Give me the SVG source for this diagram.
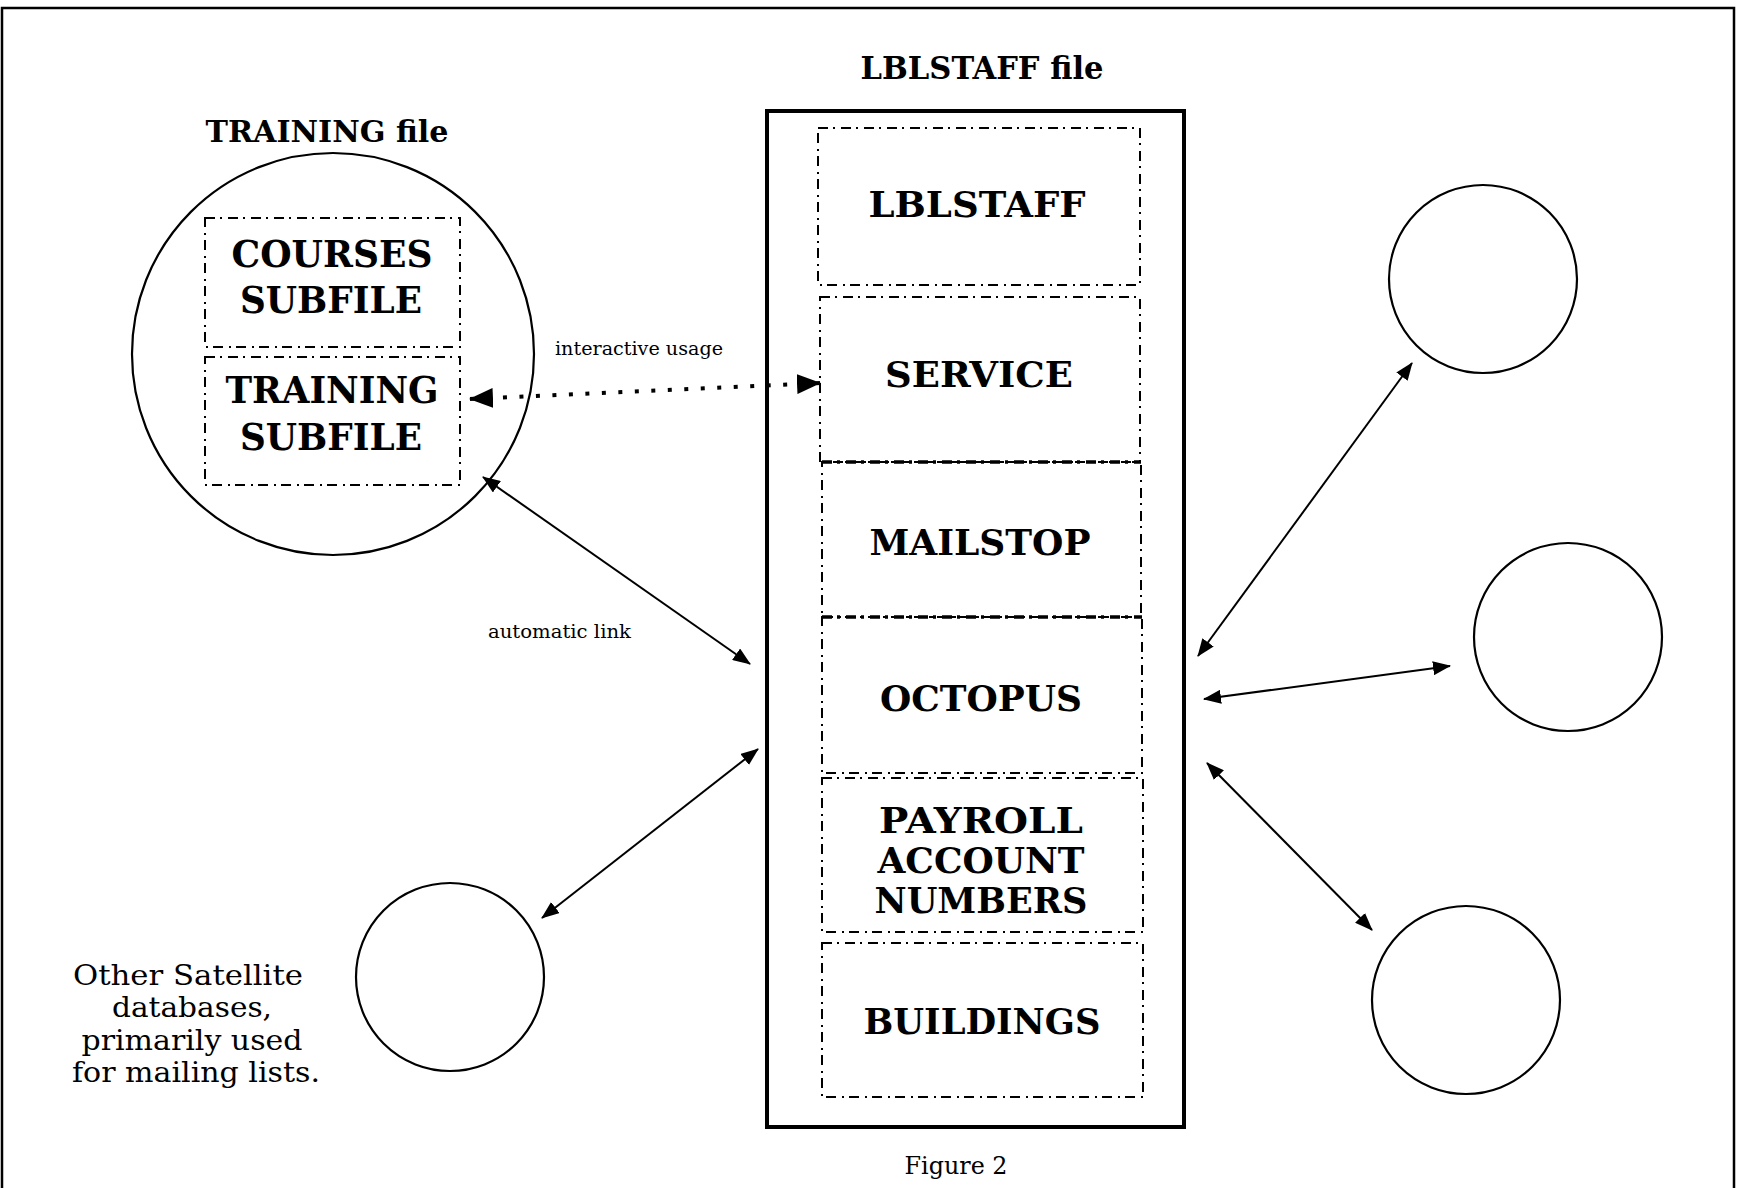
<svg xmlns="http://www.w3.org/2000/svg" width="1737" height="1188" viewBox="0 0 1737 1188">
  <style>
    .frame { fill: none; stroke: #000; stroke-width: 2.5; }
    .ring { fill: none; stroke: #000; stroke-width: 2.2; }
    .outer { fill: none; stroke: #000; stroke-width: 4; }
    .field { fill: none; stroke: #000; stroke-width: 2; stroke-dasharray: 10 5 2 6; }
    .seam { fill: none; stroke: #000; stroke-width: 3.6; stroke-dasharray: 10 5 3 6; }
    .hb { font-family: "DejaVu Serif", "Liberation Serif", serif; font-weight: bold; text-anchor: middle; fill: #000; }
    .lb { font-family: "DejaVu Serif", "Liberation Serif", serif; fill: #000; }
    .link { fill: none; stroke: #000; stroke-width: 2; marker-start: url(#tip); marker-end: url(#tip); }
    .dots { fill: none; stroke: #000; stroke-width: 4; stroke-dasharray: 4 12.5; marker-start: url(#tipBig); marker-end: url(#tipBig); }
  </style>
  <defs>
    <marker id="tip" viewBox="0 0 18 14" refX="17" refY="7" markerWidth="18" markerHeight="14" markerUnits="userSpaceOnUse" orient="auto-start-reverse">
      <path d="M0,0 L18,7 L0,14 z" fill="#000"/>
    </marker>
    <marker id="tipBig" viewBox="0 0 24 20" refX="23" refY="10" markerWidth="24" markerHeight="20" markerUnits="userSpaceOnUse" orient="auto-start-reverse">
      <path d="M0,0 L24,10 L0,20 z" fill="#000"/>
    </marker>
  </defs>

  <rect width="1737" height="1188" fill="#fff"/>
  <!-- page frame (open at the bottom) -->
  <path class="frame" d="M2,1188 V8 H1734 V1188"/>

  <!-- TRAINING file -->
  <g id="training-file">
    <text class="hb" x="327" y="142" font-size="30" textLength="243" lengthAdjust="spacingAndGlyphs">TRAINING file</text>
    <circle class="ring" cx="333" cy="354" r="201"/>
  </g>
  <g id="courses-subfile">
    <rect class="field" x="205" y="218" width="255" height="129"/>
    <text class="hb" x="332" y="267" font-size="37" textLength="201" lengthAdjust="spacingAndGlyphs">COURSES</text>
    <text class="hb" x="331" y="313" font-size="37" textLength="182" lengthAdjust="spacingAndGlyphs">SUBFILE</text>
  </g>
  <g id="training-subfile">
    <rect class="field" x="205" y="357" width="255" height="128"/>
    <text class="hb" x="332" y="403" font-size="37" textLength="213" lengthAdjust="spacingAndGlyphs">TRAINING</text>
    <text class="hb" x="331" y="450" font-size="37" textLength="182" lengthAdjust="spacingAndGlyphs">SUBFILE</text>
  </g>

  <!-- LBLSTAFF file -->
  <g id="lblstaff-file">
    <text class="hb" x="982" y="79" font-size="31" textLength="243" lengthAdjust="spacingAndGlyphs">LBLSTAFF file</text>
    <rect class="outer" x="767" y="111" width="417" height="1016"/>
  </g>
  <g id="lblstaff">
    <rect class="field" x="818" y="128" width="322" height="157"/>
    <text class="hb" x="977" y="217" font-size="35" textLength="217" lengthAdjust="spacingAndGlyphs">LBLSTAFF</text>
  </g>
  <g id="service">
    <rect class="field" x="820" y="297" width="320" height="165"/>
    <text class="hb" x="979" y="387" font-size="35" textLength="188" lengthAdjust="spacingAndGlyphs">SERVICE</text>
  </g>
  <g id="mailstop">
    <rect class="field" x="822" y="462" width="319" height="155"/>
    <line class="seam" x1="822" y1="462" x2="1141" y2="462"/>
    <text class="hb" x="980" y="555" font-size="35" textLength="221" lengthAdjust="spacingAndGlyphs">MAILSTOP</text>
  </g>
  <g id="octopus">
    <rect class="field" x="822" y="617" width="320" height="156"/>
    <line class="seam" x1="822" y1="617" x2="1142" y2="617"/>
    <text class="hb" x="981" y="711" font-size="36" textLength="202" lengthAdjust="spacingAndGlyphs">OCTOPUS</text>
  </g>
  <g id="payroll-account-numbers">
    <rect class="field" x="822" y="778" width="321" height="154"/>
    <text class="hb" x="981" y="833" font-size="36" textLength="204" lengthAdjust="spacingAndGlyphs">PAYROLL</text>
    <text class="hb" x="981" y="873" font-size="36" textLength="207" lengthAdjust="spacingAndGlyphs">ACCOUNT</text>
    <text class="hb" x="981" y="913" font-size="36" textLength="213" lengthAdjust="spacingAndGlyphs">NUMBERS</text>
  </g>
  <g id="buildings">
    <rect class="field" x="822" y="943" width="321" height="154"/>
    <text class="hb" x="982" y="1034" font-size="36" textLength="237" lengthAdjust="spacingAndGlyphs">BUILDINGS</text>
  </g>

  <!-- satellite databases -->
  <g id="satellite-top-right"><circle class="ring" cx="1483" cy="279" r="94"/></g>
  <g id="satellite-mid-right"><circle class="ring" cx="1568" cy="637" r="94"/></g>
  <g id="satellite-bottom-right"><circle class="ring" cx="1466" cy="1000" r="94"/></g>
  <g id="satellite-bottom-left"><circle class="ring" cx="450" cy="977" r="94"/></g>

  <g id="satellite-note" class="lb" font-size="28" text-anchor="middle">
    <text x="188" y="985" textLength="230" lengthAdjust="spacingAndGlyphs">Other Satellite</text>
    <text x="192" y="1017" textLength="160" lengthAdjust="spacingAndGlyphs">databases,</text>
    <text x="192" y="1050" textLength="221" lengthAdjust="spacingAndGlyphs">primarily used</text>
    <text x="196" y="1082" textLength="248" lengthAdjust="spacingAndGlyphs">for mailing lists.</text>
  </g>

  <!-- connectors -->
  <g id="connectors">
    <line class="dots" x1="470" y1="399" x2="820" y2="383"/>
    <text class="lb" x="555" y="355" font-size="19" textLength="168" lengthAdjust="spacingAndGlyphs">interactive usage</text>
    <line class="link" x1="483" y1="477" x2="750" y2="664"/>
    <text class="lb" x="488" y="638" font-size="19" textLength="143" lengthAdjust="spacingAndGlyphs">automatic link</text>
    <line class="link" x1="542" y1="918" x2="758" y2="749"/>
    <line class="link" x1="1198" y1="656" x2="1412" y2="363"/>
    <line class="link" x1="1204" y1="699" x2="1450" y2="666"/>
    <line class="link" x1="1207" y1="763" x2="1372" y2="930"/>
  </g>

  <text class="lb" x="956" y="1174" font-size="25" text-anchor="middle" textLength="103" lengthAdjust="spacingAndGlyphs">Figure 2</text>
</svg>
